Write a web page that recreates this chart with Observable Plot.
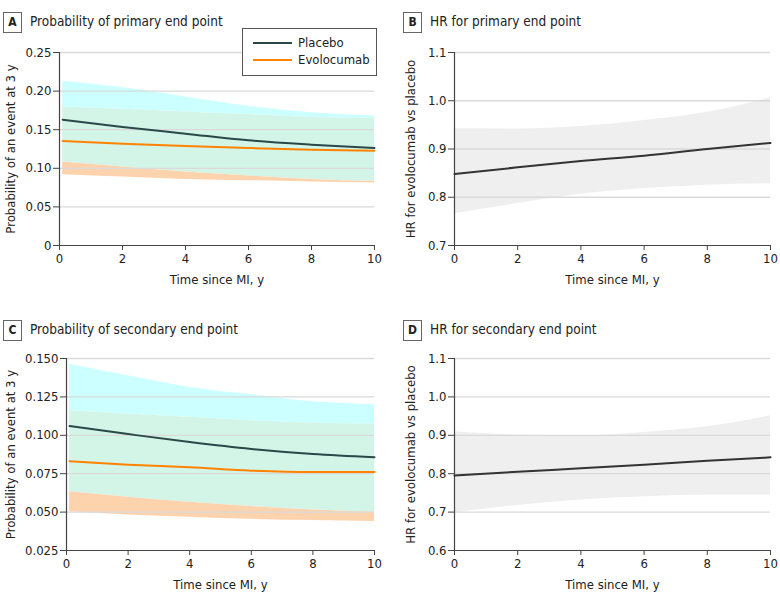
<!DOCTYPE html>
<html><head><meta charset="utf-8">
<script src="https://cdn.jsdelivr.net/npm/d3@7"></script>
<script src="https://cdn.jsdelivr.net/npm/@observablehq/plot@0.6"></script>
<style>
body{margin:0;background:#fff;}
#root{position:relative;width:780px;height:605px;overflow:hidden;font-family:"DejaVu Sans Condensed","Liberation Sans Narrow","Roboto",sans-serif;color:#222;}
.panel{position:absolute;}
.panel g[aria-label$="tick label"] text{font-size:13px;}
.panel g[aria-label$="axis label"] text{font-size:13px;}
.title{position:absolute;font-size:13.5px;white-space:nowrap;line-height:21px;}
.badge{position:absolute;left:0;top:0;width:17px;height:19px;border:1px solid #666;font-weight:bold;font-size:12px;text-align:center;line-height:19px;}
.title span.t{position:absolute;left:27px;top:-1px;}
.legend{position:absolute;left:242px;top:28px;width:133px;height:46px;border:1px solid #555;background:#fff;font-size:13px;}
.legend .row{position:absolute;left:10px;height:16px;}
.legend .sw{position:absolute;left:0;top:7px;width:39px;height:2px;}
.legend .lab{position:absolute;left:45px;top:0px;line-height:16px;white-space:nowrap;}
</style></head><body><div id="root"></div>
<script>
// ---------- data ----------
const timeProb = [0.1, 2, 4, 6, 8, 10];
const timeHR = [0, 2, 4, 6, 8, 10];
const xTicks = [0, 2, 4, 6, 8, 10];

// Panel A: probability of primary end point
const placeboA    = [0.163, 0.1535, 0.1449, 0.1362, 0.1306, 0.1263];
const placeboA_hi = [0.2128, 0.2046, 0.1925, 0.1804, 0.172, 0.1678];
const placeboA_lo = [0.108, 0.1016, 0.0952, 0.090, 0.0856, 0.083];
const evoA        = [0.1354, 0.1319, 0.1289, 0.1263, 0.1241, 0.1228];
const evoA_hi     = [0.1795, 0.1765, 0.173, 0.1696, 0.1657, 0.1644];
const evoA_lo     = [0.0917, 0.0887, 0.0856, 0.0839, 0.0822, 0.0809];
const yTicksA = [0, 0.05, 0.10, 0.15, 0.20, 0.25];
const yLabelsA = ["0", "0.05", "0.10", "0.15", "0.20", "0.25"];

// Panel B: HR for primary end point
const hrB    = [0.848, 0.862, 0.875, 0.886, 0.900, 0.9125];
const hrB_hi = [0.942, 0.9417, 0.9465, 0.959, 0.976, 1.006];
const hrB_lo = [0.766, 0.787, 0.806, 0.818, 0.825, 0.828];
const yTicksB = [0.7, 0.8, 0.9, 1.0, 1.1];
const yLabelsB = ["0.7", "0.8", "0.9", "1.0", "1.1"];

// Panel C: probability of secondary end point
const placeboC    = [0.106, 0.1008, 0.0956, 0.0911, 0.0878, 0.0857];
const placeboC_hi = [0.1463, 0.1387, 0.1312, 0.1265, 0.1218, 0.1199];
const placeboC_lo = [0.0633, 0.0597, 0.0564, 0.0536, 0.0514, 0.0499];
const evoC        = [0.0831, 0.0809, 0.0792, 0.077, 0.0761, 0.0761];
const evoC_hi     = [0.116, 0.1138, 0.1117, 0.1095, 0.1078, 0.1073];
const evoC_lo     = [0.0503, 0.0481, 0.0467, 0.0453, 0.0445, 0.0438];
const yTicksC = [0.025, 0.050, 0.075, 0.100, 0.125, 0.150];
const yLabelsC = ["0.025", "0.050", "0.075", "0.100", "0.125", "0.150"];

// Panel D: HR for secondary end point
const hrD    = [0.795, 0.805, 0.814, 0.8236, 0.834, 0.8426];
const hrD_hi = [0.909, 0.9007, 0.899, 0.9076, 0.922, 0.951];
const hrD_lo = [0.6988, 0.717, 0.7317, 0.740, 0.7447, 0.7447];
const yTicksD = [0.6, 0.7, 0.8, 0.9, 1.0, 1.1];
const yLabelsD = ["0.6", "0.7", "0.8", "0.9", "1.0", "1.1"];

const seriesNames = ["Placebo", "Evolocumab"];
const xLabel = "Time since MI, y";
const yLabelProb = "Probability of an event at 3 y";
const yLabelHR = "HR for evolocumab vs placebo";

// ---------- styles ----------
const C_PLACEBO = "#2a4848";
const C_EVO = "#ff8200";
const C_CYAN = "#ccffff";
const C_GREEN = "#d3f5e8";
const C_ORANGE = "#fdd3ae";
const C_GRAY = "#efefef";
const C_GRID = "#dadada";
const C_AXIS = "#444";
const FONT = '"DejaVu Sans Condensed","Liberation Sans Narrow","Roboto",sans-serif';
const curve = "monotone-x";

const root = document.getElementById("root");

function addTitle(letter, text, left, top) {
  const d = document.createElement("div");
  d.className = "title";
  d.style.left = left + "px"; d.style.top = top + "px";
  d.innerHTML = `<div class="badge">${letter}</div><span class="t">${text}</span>`;
  root.appendChild(d);
}

function axesMarks(yTicks, yLabels, ylabel, labelOffsetY) {
  const fmt = d => yLabels[yTicks.indexOf(d)];
  return [
    Plot.gridY(yTicks.slice(1), {stroke: C_GRID, strokeOpacity: 1, strokeWidth: 1.3}),
    Plot.ruleX([0], {stroke: C_AXIS, strokeWidth: 1.2}),
    Plot.ruleY([yTicks[0]], {stroke: C_AXIS, strokeWidth: 1.2}),
    Plot.axisX(xTicks, {tickSize: 5, tickPadding: 3, stroke: C_AXIS, label: xLabel, labelAnchor: "center", labelArrow: "none", labelOffset: 38}),
    Plot.axisY(yTicks, {tickSize: 6, tickPadding: 2, stroke: C_AXIS, tickFormat: fmt, label: ylabel, labelAnchor: "center", labelArrow: "none", labelOffset: labelOffsetY})
  ];
}

function probPanel(opts) {
  const rows = timeProb.map((t, i) => ({t, p: opts.p[i], phi: opts.phi[i], plo: opts.plo[i], e: opts.e[i], ehi: opts.ehi[i], elo: opts.elo[i]}));
  const chart = Plot.plot({
    width: 390, height: 260,
    marginLeft: opts.ml, marginRight: 16, marginTop: opts.mt, marginBottom: 55,
    style: {fontFamily: FONT, fontSize: "13px", color: "#222", background: "transparent"},
    x: {domain: [0, 10]},
    y: {domain: [opts.yTicks[0], opts.yTicks[opts.yTicks.length - 1]]},
    marks: [
      Plot.areaY(rows, {x: "t", y1: "ehi", y2: "phi", fill: C_CYAN, curve}),
      Plot.areaY(rows, {x: "t", y1: "plo", y2: "ehi", fill: C_GREEN, curve}),
      Plot.areaY(rows, {x: "t", y1: "elo", y2: "plo", fill: C_ORANGE, curve}),
      ...axesMarks(opts.yTicks, opts.yLabels, yLabelProb, opts.lo),
      Plot.lineY(rows, {x: "t", y: "p", stroke: C_PLACEBO, strokeWidth: 2, curve}),
      Plot.lineY(rows, {x: "t", y: "e", stroke: C_EVO, strokeWidth: 2, curve})
    ]
  });
  chart.classList.add("panel");
  chart.style.left = opts.left + "px"; chart.style.top = opts.top + "px";
  root.appendChild(chart);
}

function hrPanel(opts) {
  const rows = timeHR.map((t, i) => ({t, h: opts.h[i], hi: opts.hi[i], lo: opts.lo[i]}));
  const chart = Plot.plot({
    width: 390, height: 260,
    marginLeft: 64, marginRight: 10, marginTop: opts.mt, marginBottom: 55,
    style: {fontFamily: FONT, fontSize: "13px", color: "#222", background: "transparent"},
    x: {domain: [0, 10]},
    y: {domain: [opts.yTicks[0], opts.yTicks[opts.yTicks.length - 1]]},
    marks: [
      Plot.areaY(rows, {x: "t", y1: "lo", y2: "hi", fill: C_GRAY, curve}),
      ...axesMarks(opts.yTicks, opts.yLabels, yLabelHR, 49),
      Plot.lineY(rows, {x: "t", y: "h", stroke: "#333", strokeWidth: 2, curve})
    ]
  });
  chart.classList.add("panel");
  chart.style.left = opts.left + "px"; chart.style.top = opts.top + "px";
  root.appendChild(chart);
}

probPanel({p: placeboA, phi: placeboA_hi, plo: placeboA_lo, e: evoA, ehi: evoA_hi, elo: evoA_lo,
  yTicks: yTicksA, yLabels: yLabelsA, ml: 59, mt: 12, left: 0, top: 40, lo: 54});
hrPanel({h: hrB, hi: hrB_hi, lo: hrB_lo, yTicks: yTicksB, yLabels: yLabelsB, mt: 12, left: 390, top: 40});
probPanel({p: placeboC, phi: placeboC_hi, plo: placeboC_lo, e: evoC, ehi: evoC_hi, elo: evoC_lo,
  yTicks: yTicksC, yLabels: yLabelsC, ml: 66, mt: 13, left: 0, top: 345, lo: 61});
hrPanel({h: hrD, hi: hrD_hi, lo: hrD_lo, yTicks: yTicksD, yLabels: yLabelsD, mt: 13, left: 390, top: 345});

addTitle("A", "Probability of primary end point", 3, 12);
addTitle("B", "HR for primary end point", 403, 12);
addTitle("C", "Probability of secondary end point", 3, 320);
addTitle("D", "HR for secondary end point", 403, 320);

// legend
const lg = document.createElement("div");
lg.className = "legend";
lg.innerHTML = seriesNames.map((n, i) =>
  `<div class="row" style="top:${6 + i * 17}px"><div class="sw" style="background:${i === 0 ? C_PLACEBO : C_EVO}"></div><div class="lab">${n}</div></div>`).join("");
root.appendChild(lg);
</script>
</body></html>
